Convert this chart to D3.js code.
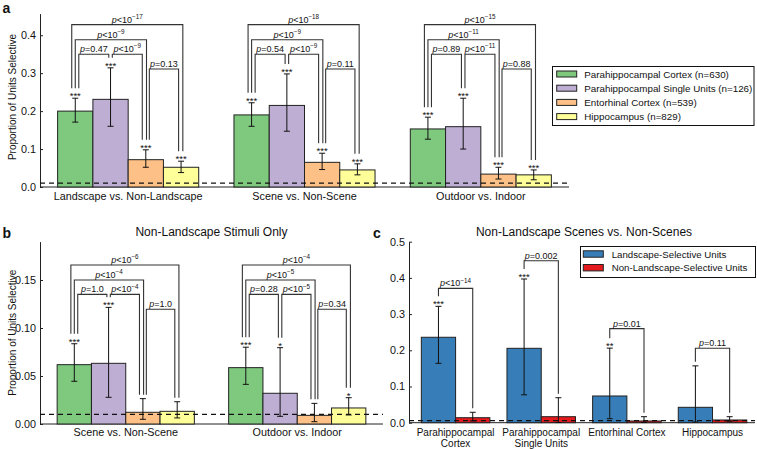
<!DOCTYPE html>
<html lang="en">
<head>
<meta charset="UTF-8">
<title>Landscape selectivity by region</title>
<script src="https://d3js.org/d3.v7.min.js"></script>
<style>
  body { margin: 0; background: #fff; }
  svg text { font-family: "Liberation Sans", Arial, Helvetica, sans-serif; fill: #111; }
  .bar { stroke: #222; stroke-width: 1; }
  .err { stroke: #111; stroke-width: 1; fill: none; }
  .bracket { stroke: #333; stroke-width: 1.1; fill: none; }
  .chance { stroke: #111; stroke-width: 1.2; stroke-dasharray: 5,4; }
  .axis path, .axis line { stroke: #222; }
  .axis text { font-size: 10.8px; }
</style>
</head>
<body>
<svg id="chart" width="757" height="449"></svg>
<script>
// ---- data ----
const regions = ["Parahippocampal Cortex (n=630)", "Parahippocampal Single Units (n=126)",
                 "Entorhinal Cortex (n=539)", "Hippocampus (n=829)"];
const regionColors = ["#7fc97f", "#beaed4", "#fdc086", "#ffff99"];

// panel a
const aComparisons = ["Landscape vs. Non-Landscape", "Scene vs. Non-Scene", "Outdoor vs. Indoor"];
const aValues = [[0.200, 0.231, 0.072, 0.052], [0.190, 0.215, 0.065, 0.045], [0.153, 0.159, 0.034, 0.032]];
const aLow    = [[0.171, 0.160, 0.052, 0.038], [0.160, 0.147, 0.046, 0.032], [0.126, 0.100, 0.021, 0.019]];
const aHigh   = [[0.234, 0.314, 0.098, 0.068], [0.222, 0.298, 0.089, 0.061], [0.184, 0.234, 0.052, 0.045]];
const aStars  = [["***", "***", "***", "***"], ["***", "***", "***", "***"], ["***", "***", "***", "***"]];
const aPLabels = [["p<10^-17", "p<10^-9", "p=0.47", "p<10^-9", "p=0.13"],
                  ["p<10^-18", "p<10^-9", "p=0.54", "p<10^-9", "p=0.11"],
                  ["p<10^-15", "p<10^-11", "p=0.89", "p<10^-11", "p=0.88"]];
const aBracketHeights = [0.428, 0.388, 0.350, 0.350, 0.311];

// panel b
const bComparisons = ["Scene vs. Non-Scene", "Outdoor vs. Indoor"];
const bValues = [[0.0618, 0.0632, 0.0122, 0.0132], [0.0587, 0.0320, 0.0090, 0.0167]];
const bLow    = [[0.0445, 0.0278, 0.0049, 0.0063], [0.0413, 0.0080, 0.0024, 0.0094]];
const bHigh   = [[0.0836, 0.1215, 0.0264, 0.0232], [0.0800, 0.0795, 0.0215, 0.0274]];
const bStars  = [["***", "***", "", ""], ["***", "*", "", "*"]];
const bPLabels = [["p<10^-6", "p<10^-4", "p=1.0", "p<10^-4", "p=1.0"],
                  ["p<10^-4", "p<10^-5", "p=0.28", "p<10^-5", "p=0.34"]];
const bBracketHeights = [0.1656, 0.150, 0.135, 0.135, 0.1195];

// bar pairs compared by the brackets of panels a and b
const bracketPairs = [[0, 3], [0, 2], [0, 1], [1, 2], [2, 3]];
const chanceLevel = 0.01;

// panel c
const cRegions = [["Parahippocampal", "Cortex"], ["Parahippocampal", "Single Units"], ["Entorhinal Cortex"], ["Hippocampus"]];
const cSeries = ["Landscape-Selective Units", "Non-Landscape-Selective Units"];
const cColors = ["#377eb8", "#e41a1c"];
const cValues = [[0.236, 0.0138], [0.2055, 0.0166], [0.0738, 0.0047], [0.0425, 0.0075]];
const cLow    = [[0.164, 0.005], [0.077, 0.0005], [0.011, 0.0005], [0.002, 0.004]];
const cHigh   = [[0.3215, 0.0287], [0.397, 0.069], [0.206, 0.0166], [0.157, 0.0166]];
const cStars  = [["***", ""], ["***", ""], ["**", ""], ["", ""]];
const cPLabels = ["p<10^-14", "p=0.002", "p=0.01", "p=0.11"];
const cBracketHeights = [0.371, 0.4475, 0.26, 0.2055];
const cChance = 0.006;

const svg = d3.select("#chart");

// leg offsets (fraction of bar width) so that the stacked brackets don't overlap
const legOffsets = [[-0.1, 0.05], [0, 0.02], [0.1, -0.05], [0.05, -0.1], [0.1, -0.07]];

function pLabel(g, x, y, label) {
  const m = label.match(/^p([<=])([^\^]*)(?:\^(.*))?$/);
  const t = g.append("text").attr("x", x).attr("y", y).attr("text-anchor", "middle")
    .style("font-size", "9px");
  t.append("tspan").style("font-style", "italic").text("p");
  t.append("tspan").text(m[1] + m[2]);
  if (m[3]) t.append("tspan").attr("dy", -3.8).style("font-size", "6.3px").text(m[3].replace("-", "\u2212"));
}

function drawAxisY(g, y, x0, ticks, fmt) {
  g.append("g").attr("class", "axis")
    .attr("transform", `translate(${x0},0)`)
    .call(d3.axisLeft(y).tickValues(ticks).tickFormat(d3.format(fmt))
      .tickSizeInner(-3).tickSizeOuter(0).tickPadding(4));
}

function groupedPanel(opt) {
  const g = svg.append("g");
  const y = d3.scaleLinear().domain([0, opt.yMax]).range(opt.yRange);
  const x = d3.scaleBand().domain(opt.groups).range(opt.xRange).paddingInner(0.2).paddingOuter(0.1);
  const xi = d3.scaleBand().domain(d3.range(regions.length)).range([0, x.bandwidth()]);
  const bw = xi.bandwidth();

  drawAxisY(g, y, opt.xRange[0], opt.ticks, opt.fmt);
  g.append("line").attr("stroke", "#222")
    .attr("x1", opt.xRange[0]).attr("x2", opt.xRange[1]).attr("y1", y(0)).attr("y2", y(0));

  opt.groups.forEach((name, gi) => {
    const gx = x(name);
    const cx = k => gx + xi(k) + bw / 2;
    opt.values[gi].forEach((v, k) => {
      g.append("rect").attr("class", "bar")
        .attr("x", gx + xi(k)).attr("width", bw)
        .attr("y", y(v)).attr("height", y(0) - y(v))
        .attr("fill", regionColors[k]);
    });
    opt.values[gi].forEach((v, k) => {
      const lo = y(opt.low[gi][k]), hi = y(opt.high[gi][k]);
      g.append("path").attr("class", "err")
        .attr("d", `M${cx(k)},${lo}V${hi}M${cx(k) - 3},${hi}h6M${cx(k) - 3},${lo}h6`);
      if (opt.stars[gi][k]) {
        g.append("text").attr("x", cx(k)).attr("y", hi + 1).attr("text-anchor", "middle")
          .style("font-size", "9.5px").text(opt.stars[gi][k]);
      }
    });
    const legBottom = k => y(opt.high[gi][k]) - (opt.stars[gi][k] ? 10 : 4);
    bracketPairs.forEach(([i, j], bi) => {
      const top = y(opt.heights[bi]);
      const xl = cx(i) + legOffsets[bi][0] * bw, xr = cx(j) + legOffsets[bi][1] * bw;
      g.append("path").attr("class", "bracket")
        .attr("d", `M${xl},${legBottom(i)}V${top}H${xr}V${legBottom(j)}`);
      pLabel(g, (xl + xr) / 2, top - 2, opt.pLabels[gi][bi]);
    });
    g.append("text").attr("x", gx + x.bandwidth() / 2).attr("y", opt.labelY)
      .attr("text-anchor", "middle").style("font-size", "10.8px").text(name);
  });

  g.append("line").attr("class", "chance")
    .attr("x1", opt.xRange[0]).attr("x2", opt.xRange[1])
    .attr("y1", y(chanceLevel)).attr("y2", y(chanceLevel));

  g.append("text").attr("transform", `translate(15.5,${opt.yLabelY}) rotate(-90)`)
    .attr("text-anchor", "middle").style("font-size", "10px").text("Proportion of Units Selective");
}

// ---- panel a ----
groupedPanel({
  groups: aComparisons, values: aValues, low: aLow, high: aHigh, stars: aStars,
  pLabels: aPLabels, heights: aBracketHeights,
  xRange: [40, 569], yRange: [187, 13.6], yMax: 0.457,
  ticks: [0, 0.1, 0.2, 0.3, 0.4], fmt: ".1f", labelY: 199.5, yLabelY: 97
});

// legend a
const legA = svg.append("g");
legA.append("rect").attr("x", 552.5).attr("y", 66.5).attr("width", 201.5).attr("height", 59)
  .attr("fill", "#fff").attr("stroke", "#111").attr("stroke-width", 1);
regions.forEach((r, k) => {
  const cy = 74 + k * 14.2;
  legA.append("rect").attr("class", "bar").attr("x", 556.7).attr("y", cy - 3).attr("width", 20).attr("height", 6)
    .attr("fill", regionColors[k]);
  legA.append("text").attr("x", 584.3).attr("y", cy + 3.6).style("font-size", "9.8px").text(r);
});

// ---- panel b ----
groupedPanel({
  groups: bComparisons, values: bValues, low: bLow, high: bHigh, stars: bStars,
  pLabels: bPLabels, heights: bBracketHeights,
  xRange: [40, 383], yRange: [424, 241.6], yMax: 0.19,
  ticks: [0, 0.05, 0.1, 0.15], fmt: ".2f", labelY: 436, yLabelY: 332.7
});
svg.append("text").attr("x", 211.5).attr("y", 236).attr("text-anchor", "middle")
  .style("font-size", "12px").text("Non-Landscape Stimuli Only");

// ---- panel c ----
(function () {
  const g = svg.append("g");
  const groups = cRegions.map(d => d.join(" "));
  const y = d3.scaleLinear().domain([0, 0.5]).range([422.7, 241.7]);
  const x = d3.scaleBand().domain(groups).range([409, 755]).paddingInner(0.2).paddingOuter(0.12).align(0.6);
  const xi = d3.scaleBand().domain([0, 1]).range([0, x.bandwidth()]);
  const bw = xi.bandwidth();

  drawAxisY(g, y, 409, [0, 0.1, 0.2, 0.3, 0.4, 0.5], ".1f");
  g.append("line").attr("stroke", "#222")
    .attr("x1", 409).attr("x2", 755).attr("y1", y(0)).attr("y2", y(0));

  groups.forEach((name, gi) => {
    const gx = x(name);
    const cx = k => gx + xi(k) + bw / 2;
    cValues[gi].forEach((v, k) => {
      g.append("rect").attr("class", "bar")
        .attr("x", gx + xi(k)).attr("width", bw)
        .attr("y", y(v)).attr("height", y(0) - y(v)).attr("fill", cColors[k]);
    });
    cValues[gi].forEach((v, k) => {
      const lo = y(cLow[gi][k]), hi = y(cHigh[gi][k]);
      g.append("path").attr("class", "err")
        .attr("d", `M${cx(k)},${lo}V${hi}M${cx(k) - 3},${hi}h6M${cx(k) - 3},${lo}h6`);
      if (cStars[gi][k]) {
        g.append("text").attr("x", cx(k)).attr("y", hi + 1).attr("text-anchor", "middle")
          .style("font-size", "9.5px").text(cStars[gi][k]);
      }
    });
    const legBottom = k => y(cHigh[gi][k]) - (cStars[gi][k] ? 10 : 4);
    const top = y(cBracketHeights[gi]);
    g.append("path").attr("class", "bracket")
      .attr("d", `M${cx(0)},${legBottom(0)}V${top}H${cx(1)}V${legBottom(1)}`);
    pLabel(g, (cx(0) + cx(1)) / 2, top - 2, cPLabels[gi]);

    cRegions[gi].forEach((line, li) => {
      g.append("text").attr("x", gx + x.bandwidth() / 2).attr("y", 436 + li * 10.5)
        .attr("text-anchor", "middle").style("font-size", "10px").text(line);
    });
  });

  g.append("line").attr("class", "chance").attr("stroke", "#333").attr("stroke-width", 1.6)
    .attr("x1", 409).attr("x2", 755).attr("y1", y(cChance)).attr("y2", y(cChance));

  // legend c
  g.append("rect").attr("x", 580.5).attr("y", 246.5).attr("width", 175).attr("height", 31)
    .attr("fill", "#fff").attr("stroke", "#111");
  cSeries.forEach((s, k) => {
    const cy = 254 + k * 13.7;
    g.append("rect").attr("class", "bar").attr("x", 583.3).attr("y", cy - 3.2).attr("width", 20).attr("height", 6.4)
      .attr("fill", cColors[k]);
    g.append("text").attr("x", 611.7).attr("y", cy + 3.5).style("font-size", "9.7px").text(s);
  });

  svg.append("text").attr("x", 584).attr("y", 236).attr("text-anchor", "middle")
    .style("font-size", "12px").text("Non-Landscape Scenes vs. Non-Scenes");
})();

// panel letters
[["a", 2.5, 13], ["b", 2.5, 238], ["c", 373, 238]].forEach(([t, px, py]) => {
  svg.append("text").attr("x", px).attr("y", py).style("font-size", "14px")
    .style("font-weight", "bold").text(t);
});
</script>
</body>
</html>
